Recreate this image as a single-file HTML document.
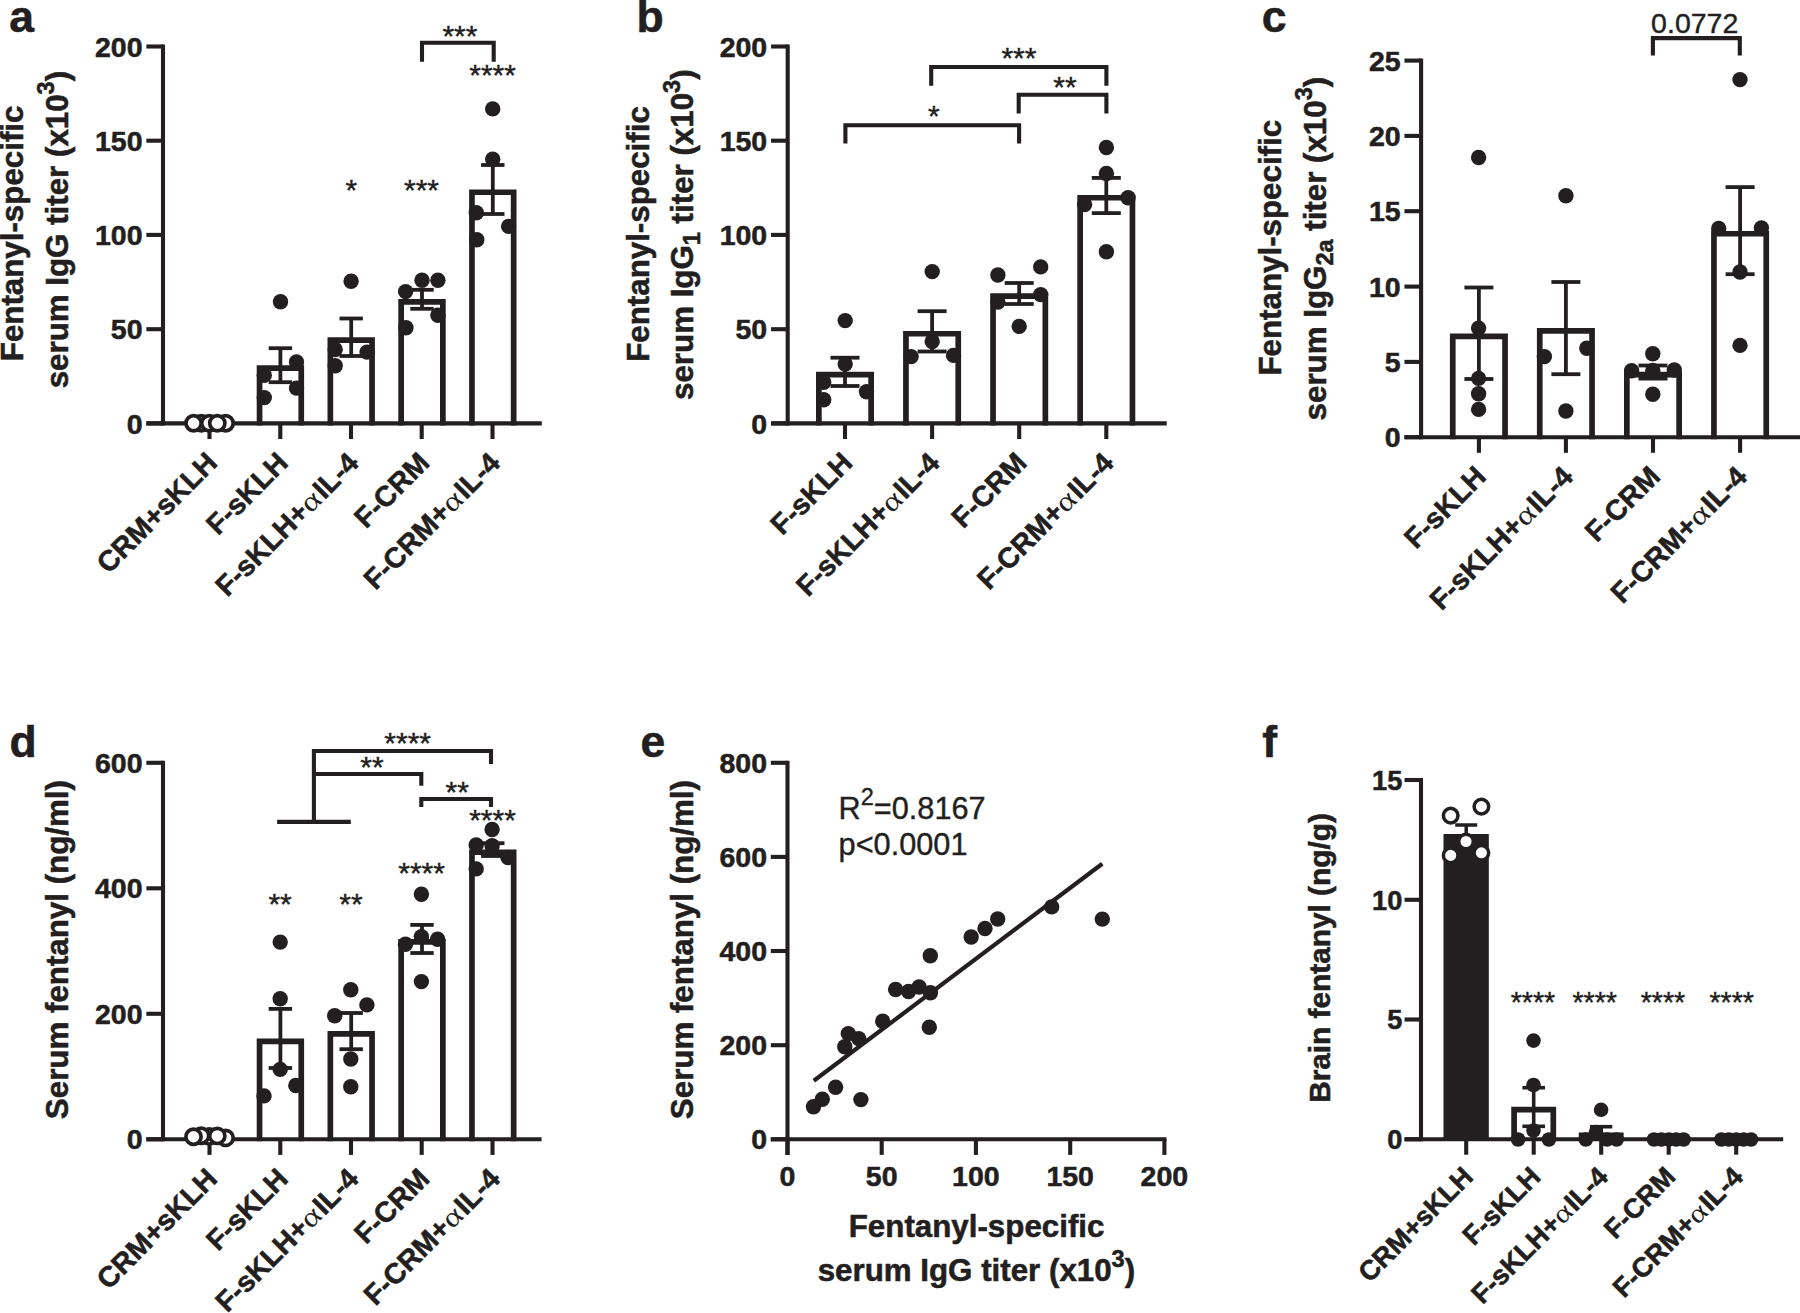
<!DOCTYPE html>
<html lang="en">
<head>
<meta charset="utf-8">
<title>Figure</title>
<style>
html,body{margin:0;padding:0;background:#fff;}
svg{display:block;}
text{font-family:"Liberation Sans",Arial,Helvetica,sans-serif;fill:#231f20;}
.al{font-family:"Liberation Serif","DejaVu Serif",serif;font-weight:normal;stroke:none;}
</style>
</head>
<body>
<svg width="1800" height="1313" viewBox="0 0 1800 1313">
<rect x="0" y="0" width="1800" height="1313" fill="#fff"/>
<text x="9.2" y="31.5" font-size="44.5" font-weight="bold" text-anchor="start" stroke="#231f20" stroke-width="0.55">a</text>
<text x="22.6" y="233.4" font-size="31.3" font-weight="bold" text-anchor="middle" transform="rotate(-90 22.6 233.4)" stroke="#231f20" stroke-width="0.55">Fentanyl-specific</text>
<text x="67.9" y="229.6" font-size="31.3" font-weight="bold" text-anchor="middle" transform="rotate(-90 67.9 229.6)" stroke="#231f20" stroke-width="0.55">serum IgG titer (x10<tspan dy="-13.5" font-size="23.5">3</tspan><tspan dy="13.5">)</tspan></text>
<path d="M259.55 425.45V368.05H301.25V425.45" fill="none" stroke="#231f20" stroke-width="5.7" stroke-linejoin="miter"/>
<path d="M330.35 425.45V340.15H372.05V425.45" fill="none" stroke="#231f20" stroke-width="5.7" stroke-linejoin="miter"/>
<path d="M401.15 425.45V301.95H442.85V425.45" fill="none" stroke="#231f20" stroke-width="5.7" stroke-linejoin="miter"/>
<path d="M471.95 425.45V192.25H513.65V425.45" fill="none" stroke="#231f20" stroke-width="5.7" stroke-linejoin="miter"/>
<line x1="163" y1="44.45" x2="163" y2="425.45" stroke="#231f20" stroke-width="4.1" stroke-linecap="butt"/>
<line x1="146.35" y1="423.4" x2="541.8" y2="423.4" stroke="#231f20" stroke-width="4.1" stroke-linecap="butt"/>
<line x1="146.35" y1="46.5" x2="163" y2="46.5" stroke="#231f20" stroke-width="4.1" stroke-linecap="butt"/>
<text x="142.5" y="56.6" font-size="28.5" font-weight="bold" text-anchor="end" stroke="#231f20" stroke-width="0.55">200</text>
<line x1="146.35" y1="140.7" x2="163" y2="140.7" stroke="#231f20" stroke-width="4.1" stroke-linecap="butt"/>
<text x="142.5" y="150.8" font-size="28.5" font-weight="bold" text-anchor="end" stroke="#231f20" stroke-width="0.55">150</text>
<line x1="146.35" y1="234.9" x2="163" y2="234.9" stroke="#231f20" stroke-width="4.1" stroke-linecap="butt"/>
<text x="142.5" y="245" font-size="28.5" font-weight="bold" text-anchor="end" stroke="#231f20" stroke-width="0.55">100</text>
<line x1="146.35" y1="329.2" x2="163" y2="329.2" stroke="#231f20" stroke-width="4.1" stroke-linecap="butt"/>
<text x="142.5" y="339.3" font-size="28.5" font-weight="bold" text-anchor="end" stroke="#231f20" stroke-width="0.55">50</text>
<line x1="146.35" y1="423.4" x2="163" y2="423.4" stroke="#231f20" stroke-width="4.1" stroke-linecap="butt"/>
<text x="142.5" y="433.5" font-size="28.5" font-weight="bold" text-anchor="end" stroke="#231f20" stroke-width="0.55">0</text>
<line x1="209.5" y1="423.4" x2="209.5" y2="439" stroke="#231f20" stroke-width="4.1" stroke-linecap="butt"/>
<line x1="280.3" y1="423.4" x2="280.3" y2="439" stroke="#231f20" stroke-width="4.1" stroke-linecap="butt"/>
<line x1="351" y1="423.4" x2="351" y2="439" stroke="#231f20" stroke-width="4.1" stroke-linecap="butt"/>
<line x1="421.7" y1="423.4" x2="421.7" y2="439" stroke="#231f20" stroke-width="4.1" stroke-linecap="butt"/>
<line x1="492.5" y1="423.4" x2="492.5" y2="439" stroke="#231f20" stroke-width="4.1" stroke-linecap="butt"/>
<line x1="280.4" y1="348.2" x2="280.4" y2="382.2" stroke="#231f20" stroke-width="3.8" stroke-linecap="butt"/>
<line x1="268.7" y1="348.2" x2="292.1" y2="348.2" stroke="#231f20" stroke-width="3.8" stroke-linecap="butt"/>
<line x1="268.7" y1="382.2" x2="292.1" y2="382.2" stroke="#231f20" stroke-width="3.8" stroke-linecap="butt"/>
<line x1="351.2" y1="318.5" x2="351.2" y2="356" stroke="#231f20" stroke-width="3.8" stroke-linecap="butt"/>
<line x1="339.5" y1="318.5" x2="362.9" y2="318.5" stroke="#231f20" stroke-width="3.8" stroke-linecap="butt"/>
<line x1="339.5" y1="356" x2="362.9" y2="356" stroke="#231f20" stroke-width="3.8" stroke-linecap="butt"/>
<line x1="422" y1="289.8" x2="422" y2="308.8" stroke="#231f20" stroke-width="3.8" stroke-linecap="butt"/>
<line x1="410.3" y1="289.8" x2="433.7" y2="289.8" stroke="#231f20" stroke-width="3.8" stroke-linecap="butt"/>
<line x1="410.3" y1="308.8" x2="433.7" y2="308.8" stroke="#231f20" stroke-width="3.8" stroke-linecap="butt"/>
<line x1="492.8" y1="165" x2="492.8" y2="214" stroke="#231f20" stroke-width="3.8" stroke-linecap="butt"/>
<line x1="481.1" y1="165" x2="504.5" y2="165" stroke="#231f20" stroke-width="3.8" stroke-linecap="butt"/>
<line x1="481.1" y1="214" x2="504.5" y2="214" stroke="#231f20" stroke-width="3.8" stroke-linecap="butt"/>
<circle cx="280.5" cy="301.7" r="7.7" fill="#231f20"/>
<circle cx="296.5" cy="362" r="7.7" fill="#231f20"/>
<circle cx="264.3" cy="375.3" r="7.7" fill="#231f20"/>
<circle cx="296.5" cy="388.1" r="7.7" fill="#231f20"/>
<circle cx="264.3" cy="397.6" r="7.7" fill="#231f20"/>
<circle cx="351.1" cy="281.2" r="7.7" fill="#231f20"/>
<circle cx="335.2" cy="349.5" r="7.7" fill="#231f20"/>
<circle cx="367" cy="352.1" r="7.7" fill="#231f20"/>
<circle cx="335.2" cy="365.8" r="7.7" fill="#231f20"/>
<circle cx="422" cy="280.3" r="7.7" fill="#231f20"/>
<circle cx="437.9" cy="280.3" r="7.7" fill="#231f20"/>
<circle cx="405.6" cy="291.6" r="7.7" fill="#231f20"/>
<circle cx="437.9" cy="315.2" r="7.7" fill="#231f20"/>
<circle cx="405.9" cy="327.8" r="7.7" fill="#231f20"/>
<circle cx="492.7" cy="108.9" r="7.7" fill="#231f20"/>
<circle cx="492.7" cy="159.2" r="7.7" fill="#231f20"/>
<circle cx="476.3" cy="212.8" r="7.7" fill="#231f20"/>
<circle cx="508.6" cy="226.4" r="7.7" fill="#231f20"/>
<circle cx="476.8" cy="239.8" r="7.7" fill="#231f20"/>
<circle cx="201.3" cy="423.3" r="7.6" fill="#fff" stroke="#231f20" stroke-width="3.7"/>
<circle cx="225.6" cy="423.3" r="7.6" fill="#fff" stroke="#231f20" stroke-width="3.7"/>
<circle cx="193.6" cy="423.3" r="7.6" fill="#fff" stroke="#231f20" stroke-width="3.7"/>
<circle cx="209.3" cy="423.3" r="7.6" fill="#fff" stroke="#231f20" stroke-width="3.7"/>
<circle cx="217.3" cy="423.3" r="7.6" fill="#fff" stroke="#231f20" stroke-width="3.7"/>
<path d="M422 61.7V42.8H493.7V61.7" fill="none" stroke="#231f20" stroke-width="4.1" stroke-linejoin="miter"/>
<text x="459.9" y="46" font-size="30" font-weight="normal" text-anchor="middle" stroke="#231f20" stroke-width="0.4">***</text>
<text x="492.6" y="85.4" font-size="30" font-weight="normal" text-anchor="middle" stroke="#231f20" stroke-width="0.4">****</text>
<text x="351.3" y="200.4" font-size="30" font-weight="normal" text-anchor="middle" stroke="#231f20" stroke-width="0.4">*</text>
<text x="421.5" y="200.4" font-size="30" font-weight="normal" text-anchor="middle" stroke="#231f20" stroke-width="0.4">***</text>
<g transform="translate(218.8 464.5) rotate(-45)" font-size="28.5" font-weight="bold" text-anchor="end">
<text x="0" y="0" stroke="#231f20" stroke-width="0.55">CRM+sKLH</text>
</g>
<g transform="translate(289.6 464.5) rotate(-45)" font-size="28.5" font-weight="bold" text-anchor="end">
<text x="0" y="0" stroke="#231f20" stroke-width="0.55">F-sKLH</text>
</g>
<g transform="translate(360.3 464.5) rotate(-45)" font-size="28.5" font-weight="bold" text-anchor="end">
<text x="0" y="0" stroke="#231f20" stroke-width="0.55">IL-4</text>
<text class="al" text-anchor="start" transform="translate(-69.91 0) scale(1.2 1)">α</text>
<text x="-70.34" y="0" stroke="#231f20" stroke-width="0.55">F-sKLH+</text>
</g>
<g transform="translate(431 464.5) rotate(-45)" font-size="28.5" font-weight="bold" text-anchor="end">
<text x="0" y="0" stroke="#231f20" stroke-width="0.55">F-CRM</text>
</g>
<g transform="translate(501.8 464.5) rotate(-45)" font-size="28.5" font-weight="bold" text-anchor="end">
<text x="0" y="0" stroke="#231f20" stroke-width="0.55">IL-4</text>
<text class="al" text-anchor="start" transform="translate(-69.91 0) scale(1.2 1)">α</text>
<text x="-70.34" y="0" stroke="#231f20" stroke-width="0.55">F-CRM+</text>
</g>
<text x="636.4" y="31.5" font-size="44.5" font-weight="bold" text-anchor="start" stroke="#231f20" stroke-width="0.55">b</text>
<text x="648.7" y="234" font-size="31.3" font-weight="bold" text-anchor="middle" transform="rotate(-90 648.7 234)" stroke="#231f20" stroke-width="0.55">Fentanyl-specific</text>
<text x="693.5" y="234.7" font-size="31.3" font-weight="bold" text-anchor="middle" transform="rotate(-90 693.5 234.7)" stroke="#231f20" stroke-width="0.55">serum IgG<tspan dy="7" font-size="23.5">1</tspan><tspan dy="-7"> titer (x10</tspan><tspan dy="-13.5" font-size="23.5">3</tspan><tspan dy="13.5">)</tspan></text>
<path d="M818.85 425.45V374.55H871.15V425.45" fill="none" stroke="#231f20" stroke-width="5.7" stroke-linejoin="miter"/>
<path d="M905.95 425.45V333.75H958.25V425.45" fill="none" stroke="#231f20" stroke-width="5.7" stroke-linejoin="miter"/>
<path d="M993.05 425.45V296.05H1045.35V425.45" fill="none" stroke="#231f20" stroke-width="5.7" stroke-linejoin="miter"/>
<path d="M1080.15 425.45V197.75H1132.45V425.45" fill="none" stroke="#231f20" stroke-width="5.7" stroke-linejoin="miter"/>
<line x1="787.7" y1="44.45" x2="787.7" y2="425.45" stroke="#231f20" stroke-width="4.1" stroke-linecap="butt"/>
<line x1="771.05" y1="423.4" x2="1166.7" y2="423.4" stroke="#231f20" stroke-width="4.1" stroke-linecap="butt"/>
<line x1="771.05" y1="46.5" x2="787.7" y2="46.5" stroke="#231f20" stroke-width="4.1" stroke-linecap="butt"/>
<text x="767.2" y="56.6" font-size="28.5" font-weight="bold" text-anchor="end" stroke="#231f20" stroke-width="0.55">200</text>
<line x1="771.05" y1="140.7" x2="787.7" y2="140.7" stroke="#231f20" stroke-width="4.1" stroke-linecap="butt"/>
<text x="767.2" y="150.8" font-size="28.5" font-weight="bold" text-anchor="end" stroke="#231f20" stroke-width="0.55">150</text>
<line x1="771.05" y1="234.9" x2="787.7" y2="234.9" stroke="#231f20" stroke-width="4.1" stroke-linecap="butt"/>
<text x="767.2" y="245" font-size="28.5" font-weight="bold" text-anchor="end" stroke="#231f20" stroke-width="0.55">100</text>
<line x1="771.05" y1="329.2" x2="787.7" y2="329.2" stroke="#231f20" stroke-width="4.1" stroke-linecap="butt"/>
<text x="767.2" y="339.3" font-size="28.5" font-weight="bold" text-anchor="end" stroke="#231f20" stroke-width="0.55">50</text>
<line x1="771.05" y1="423.4" x2="787.7" y2="423.4" stroke="#231f20" stroke-width="4.1" stroke-linecap="butt"/>
<text x="767.2" y="433.5" font-size="28.5" font-weight="bold" text-anchor="end" stroke="#231f20" stroke-width="0.55">0</text>
<line x1="845" y1="423.4" x2="845" y2="439" stroke="#231f20" stroke-width="4.1" stroke-linecap="butt"/>
<line x1="932.1" y1="423.4" x2="932.1" y2="439" stroke="#231f20" stroke-width="4.1" stroke-linecap="butt"/>
<line x1="1019.2" y1="423.4" x2="1019.2" y2="439" stroke="#231f20" stroke-width="4.1" stroke-linecap="butt"/>
<line x1="1106.3" y1="423.4" x2="1106.3" y2="439" stroke="#231f20" stroke-width="4.1" stroke-linecap="butt"/>
<line x1="845" y1="357.7" x2="845" y2="386" stroke="#231f20" stroke-width="3.8" stroke-linecap="butt"/>
<line x1="830.5" y1="357.7" x2="859.5" y2="357.7" stroke="#231f20" stroke-width="3.8" stroke-linecap="butt"/>
<line x1="830.5" y1="386" x2="859.5" y2="386" stroke="#231f20" stroke-width="3.8" stroke-linecap="butt"/>
<line x1="932.1" y1="311.2" x2="932.1" y2="351.5" stroke="#231f20" stroke-width="3.8" stroke-linecap="butt"/>
<line x1="917.6" y1="311.2" x2="946.6" y2="311.2" stroke="#231f20" stroke-width="3.8" stroke-linecap="butt"/>
<line x1="917.6" y1="351.5" x2="946.6" y2="351.5" stroke="#231f20" stroke-width="3.8" stroke-linecap="butt"/>
<line x1="1019.2" y1="283" x2="1019.2" y2="304" stroke="#231f20" stroke-width="3.8" stroke-linecap="butt"/>
<line x1="1004.7" y1="283" x2="1033.7" y2="283" stroke="#231f20" stroke-width="3.8" stroke-linecap="butt"/>
<line x1="1004.7" y1="304" x2="1033.7" y2="304" stroke="#231f20" stroke-width="3.8" stroke-linecap="butt"/>
<line x1="1106.3" y1="177.9" x2="1106.3" y2="213.1" stroke="#231f20" stroke-width="3.8" stroke-linecap="butt"/>
<line x1="1091.8" y1="177.9" x2="1120.8" y2="177.9" stroke="#231f20" stroke-width="3.8" stroke-linecap="butt"/>
<line x1="1091.8" y1="213.1" x2="1120.8" y2="213.1" stroke="#231f20" stroke-width="3.8" stroke-linecap="butt"/>
<circle cx="845.2" cy="320.6" r="7.7" fill="#231f20"/>
<circle cx="845.2" cy="364.1" r="7.7" fill="#231f20"/>
<circle cx="823.7" cy="382.2" r="7.7" fill="#231f20"/>
<circle cx="866.5" cy="391.8" r="7.7" fill="#231f20"/>
<circle cx="823.7" cy="399.7" r="7.7" fill="#231f20"/>
<circle cx="932.2" cy="271.6" r="7.7" fill="#231f20"/>
<circle cx="932.2" cy="341.5" r="7.7" fill="#231f20"/>
<circle cx="911.1" cy="356.6" r="7.7" fill="#231f20"/>
<circle cx="953.5" cy="355.4" r="7.7" fill="#231f20"/>
<circle cx="997.9" cy="275" r="7.7" fill="#231f20"/>
<circle cx="1040.7" cy="266.9" r="7.7" fill="#231f20"/>
<circle cx="1040.7" cy="294.6" r="7.7" fill="#231f20"/>
<circle cx="997.9" cy="302.1" r="7.7" fill="#231f20"/>
<circle cx="1019.2" cy="326.4" r="7.7" fill="#231f20"/>
<circle cx="1106.4" cy="147.5" r="7.7" fill="#231f20"/>
<circle cx="1106.4" cy="173.5" r="7.7" fill="#231f20"/>
<circle cx="1128.1" cy="197.8" r="7.7" fill="#231f20"/>
<circle cx="1084.6" cy="204.5" r="7.7" fill="#231f20"/>
<circle cx="1106.4" cy="251.8" r="7.7" fill="#231f20"/>
<path d="M931.2 85.8V67H1106.4V85.8" fill="none" stroke="#231f20" stroke-width="4.1" stroke-linejoin="miter"/>
<text x="1018.9" y="68.1" font-size="30" font-weight="normal" text-anchor="middle" stroke="#231f20" stroke-width="0.4">***</text>
<path d="M1018.7 113.6V94.7H1106.4V113.6" fill="none" stroke="#231f20" stroke-width="4.1" stroke-linejoin="miter"/>
<text x="1064.9" y="96.6" font-size="30" font-weight="normal" text-anchor="middle" stroke="#231f20" stroke-width="0.4">**</text>
<path d="M845.4 143.6V125.3H1019.1V143.6" fill="none" stroke="#231f20" stroke-width="4.1" stroke-linejoin="miter"/>
<text x="933.9" y="125.6" font-size="30" font-weight="normal" text-anchor="middle" stroke="#231f20" stroke-width="0.4">*</text>
<g transform="translate(854 464.5) rotate(-45)" font-size="28.5" font-weight="bold" text-anchor="end">
<text x="0" y="0" stroke="#231f20" stroke-width="0.55">F-sKLH</text>
</g>
<g transform="translate(941.1 464.5) rotate(-45)" font-size="28.5" font-weight="bold" text-anchor="end">
<text x="0" y="0" stroke="#231f20" stroke-width="0.55">IL-4</text>
<text class="al" text-anchor="start" transform="translate(-69.91 0) scale(1.2 1)">α</text>
<text x="-70.34" y="0" stroke="#231f20" stroke-width="0.55">F-sKLH+</text>
</g>
<g transform="translate(1028.2 464.5) rotate(-45)" font-size="28.5" font-weight="bold" text-anchor="end">
<text x="0" y="0" stroke="#231f20" stroke-width="0.55">F-CRM</text>
</g>
<g transform="translate(1115.3 464.5) rotate(-45)" font-size="28.5" font-weight="bold" text-anchor="end">
<text x="0" y="0" stroke="#231f20" stroke-width="0.55">IL-4</text>
<text class="al" text-anchor="start" transform="translate(-69.91 0) scale(1.2 1)">α</text>
<text x="-70.34" y="0" stroke="#231f20" stroke-width="0.55">F-CRM+</text>
</g>
<text x="1261.8" y="31.8" font-size="44.5" font-weight="bold" text-anchor="start" stroke="#231f20" stroke-width="0.55">c</text>
<text x="1281" y="247.7" font-size="31.3" font-weight="bold" text-anchor="middle" transform="rotate(-90 1281 247.7)" stroke="#231f20" stroke-width="0.55">Fentanyl-specific</text>
<text x="1325.7" y="248.6" font-size="31.3" font-weight="bold" text-anchor="middle" transform="rotate(-90 1325.7 248.6)" stroke="#231f20" stroke-width="0.55">serum IgG<tspan dy="7" font-size="23.5">2a</tspan><tspan dy="-7"> titer (x10</tspan><tspan dy="-13.5" font-size="23.5">3</tspan><tspan dy="13.5">)</tspan></text>
<path d="M1452.75 439.25V336.45H1505.05V439.25" fill="none" stroke="#231f20" stroke-width="5.7" stroke-linejoin="miter"/>
<path d="M1539.75 439.25V330.95H1592.05V439.25" fill="none" stroke="#231f20" stroke-width="5.7" stroke-linejoin="miter"/>
<path d="M1626.85 439.25V374.65H1679.15V439.25" fill="none" stroke="#231f20" stroke-width="5.7" stroke-linejoin="miter"/>
<path d="M1713.95 439.25V233.75H1766.25V439.25" fill="none" stroke="#231f20" stroke-width="5.7" stroke-linejoin="miter"/>
<line x1="1421.1" y1="58.55" x2="1421.1" y2="439.25" stroke="#231f20" stroke-width="4.1" stroke-linecap="butt"/>
<line x1="1404.45" y1="437.2" x2="1800" y2="437.2" stroke="#231f20" stroke-width="4.1" stroke-linecap="butt"/>
<line x1="1404.45" y1="60.6" x2="1421.1" y2="60.6" stroke="#231f20" stroke-width="4.1" stroke-linecap="butt"/>
<text x="1400.6" y="70.7" font-size="28.5" font-weight="bold" text-anchor="end" stroke="#231f20" stroke-width="0.55">25</text>
<line x1="1404.45" y1="135.9" x2="1421.1" y2="135.9" stroke="#231f20" stroke-width="4.1" stroke-linecap="butt"/>
<text x="1400.6" y="146" font-size="28.5" font-weight="bold" text-anchor="end" stroke="#231f20" stroke-width="0.55">20</text>
<line x1="1404.45" y1="211.2" x2="1421.1" y2="211.2" stroke="#231f20" stroke-width="4.1" stroke-linecap="butt"/>
<text x="1400.6" y="221.3" font-size="28.5" font-weight="bold" text-anchor="end" stroke="#231f20" stroke-width="0.55">15</text>
<line x1="1404.45" y1="286.6" x2="1421.1" y2="286.6" stroke="#231f20" stroke-width="4.1" stroke-linecap="butt"/>
<text x="1400.6" y="296.7" font-size="28.5" font-weight="bold" text-anchor="end" stroke="#231f20" stroke-width="0.55">10</text>
<line x1="1404.45" y1="361.9" x2="1421.1" y2="361.9" stroke="#231f20" stroke-width="4.1" stroke-linecap="butt"/>
<text x="1400.6" y="372" font-size="28.5" font-weight="bold" text-anchor="end" stroke="#231f20" stroke-width="0.55">5</text>
<line x1="1404.45" y1="437.2" x2="1421.1" y2="437.2" stroke="#231f20" stroke-width="4.1" stroke-linecap="butt"/>
<text x="1400.6" y="447.3" font-size="28.5" font-weight="bold" text-anchor="end" stroke="#231f20" stroke-width="0.55">0</text>
<line x1="1478.9" y1="437.2" x2="1478.9" y2="452.8" stroke="#231f20" stroke-width="4.1" stroke-linecap="butt"/>
<line x1="1565.9" y1="437.2" x2="1565.9" y2="452.8" stroke="#231f20" stroke-width="4.1" stroke-linecap="butt"/>
<line x1="1653" y1="437.2" x2="1653" y2="452.8" stroke="#231f20" stroke-width="4.1" stroke-linecap="butt"/>
<line x1="1740.1" y1="437.2" x2="1740.1" y2="452.8" stroke="#231f20" stroke-width="4.1" stroke-linecap="butt"/>
<line x1="1478.9" y1="287.5" x2="1478.9" y2="379" stroke="#231f20" stroke-width="3.8" stroke-linecap="butt"/>
<line x1="1464.4" y1="287.5" x2="1493.4" y2="287.5" stroke="#231f20" stroke-width="3.8" stroke-linecap="butt"/>
<line x1="1464.4" y1="379" x2="1493.4" y2="379" stroke="#231f20" stroke-width="3.8" stroke-linecap="butt"/>
<line x1="1565.9" y1="282" x2="1565.9" y2="374.2" stroke="#231f20" stroke-width="3.8" stroke-linecap="butt"/>
<line x1="1551.4" y1="282" x2="1580.4" y2="282" stroke="#231f20" stroke-width="3.8" stroke-linecap="butt"/>
<line x1="1551.4" y1="374.2" x2="1580.4" y2="374.2" stroke="#231f20" stroke-width="3.8" stroke-linecap="butt"/>
<line x1="1653" y1="365.5" x2="1653" y2="378.6" stroke="#231f20" stroke-width="3.8" stroke-linecap="butt"/>
<line x1="1638.5" y1="365.5" x2="1667.5" y2="365.5" stroke="#231f20" stroke-width="3.8" stroke-linecap="butt"/>
<line x1="1638.5" y1="378.6" x2="1667.5" y2="378.6" stroke="#231f20" stroke-width="3.8" stroke-linecap="butt"/>
<line x1="1740.1" y1="187.1" x2="1740.1" y2="274.2" stroke="#231f20" stroke-width="3.8" stroke-linecap="butt"/>
<line x1="1725.6" y1="187.1" x2="1754.6" y2="187.1" stroke="#231f20" stroke-width="3.8" stroke-linecap="butt"/>
<line x1="1725.6" y1="274.2" x2="1754.6" y2="274.2" stroke="#231f20" stroke-width="3.8" stroke-linecap="butt"/>
<circle cx="1478.6" cy="157.5" r="7.7" fill="#231f20"/>
<circle cx="1478.6" cy="328.1" r="7.7" fill="#231f20"/>
<circle cx="1478.6" cy="378.4" r="7.7" fill="#231f20"/>
<circle cx="1478.6" cy="393.8" r="7.7" fill="#231f20"/>
<circle cx="1478.6" cy="409.4" r="7.7" fill="#231f20"/>
<circle cx="1565.9" cy="195.7" r="7.7" fill="#231f20"/>
<circle cx="1586.8" cy="348.2" r="7.7" fill="#231f20"/>
<circle cx="1544.4" cy="356.6" r="7.7" fill="#231f20"/>
<circle cx="1565.9" cy="411" r="7.7" fill="#231f20"/>
<circle cx="1652.8" cy="353.7" r="7.7" fill="#231f20"/>
<circle cx="1631.6" cy="370.8" r="7.7" fill="#231f20"/>
<circle cx="1674.3" cy="370" r="7.7" fill="#231f20"/>
<circle cx="1652.8" cy="370.5" r="7.7" fill="#231f20"/>
<circle cx="1652.8" cy="394.3" r="7.7" fill="#231f20"/>
<circle cx="1740" cy="79.6" r="7.7" fill="#231f20"/>
<circle cx="1718.7" cy="228.4" r="7.7" fill="#231f20"/>
<circle cx="1761.4" cy="227.9" r="7.7" fill="#231f20"/>
<circle cx="1740" cy="272" r="7.7" fill="#231f20"/>
<circle cx="1740" cy="345.4" r="7.7" fill="#231f20"/>
<path d="M1652.9 55.6V38.1H1739.8V55.6" fill="none" stroke="#231f20" stroke-width="4.1" stroke-linejoin="miter"/>
<text x="1694.7" y="33.1" font-size="28.5" font-weight="normal" text-anchor="middle" stroke="#231f20" stroke-width="0.4">0.0772</text>
<g transform="translate(1487.6 478.3) rotate(-45)" font-size="28.5" font-weight="bold" text-anchor="end">
<text x="0" y="0" stroke="#231f20" stroke-width="0.55">F-sKLH</text>
</g>
<g transform="translate(1574.6 478.3) rotate(-45)" font-size="28.5" font-weight="bold" text-anchor="end">
<text x="0" y="0" stroke="#231f20" stroke-width="0.55">IL-4</text>
<text class="al" text-anchor="start" transform="translate(-69.91 0) scale(1.2 1)">α</text>
<text x="-70.34" y="0" stroke="#231f20" stroke-width="0.55">F-sKLH+</text>
</g>
<g transform="translate(1661.7 478.3) rotate(-45)" font-size="28.5" font-weight="bold" text-anchor="end">
<text x="0" y="0" stroke="#231f20" stroke-width="0.55">F-CRM</text>
</g>
<g transform="translate(1748.8 478.3) rotate(-45)" font-size="28.5" font-weight="bold" text-anchor="end">
<text x="0" y="0" stroke="#231f20" stroke-width="0.55">IL-4</text>
<text class="al" text-anchor="start" transform="translate(-69.91 0) scale(1.2 1)">α</text>
<text x="-70.34" y="0" stroke="#231f20" stroke-width="0.55">F-CRM+</text>
</g>
<text x="9.6" y="756.9" font-size="44.5" font-weight="bold" text-anchor="start" stroke="#231f20" stroke-width="0.55">d</text>
<text x="68" y="949.6" font-size="31.3" font-weight="bold" text-anchor="middle" transform="rotate(-90 68 949.6)" stroke="#231f20" stroke-width="0.55">Serum fentanyl (ng/ml)</text>
<path d="M259.55 1141.35V1041.45H301.25V1141.35" fill="none" stroke="#231f20" stroke-width="5.7" stroke-linejoin="miter"/>
<path d="M330.35 1141.35V1033.95H372.05V1141.35" fill="none" stroke="#231f20" stroke-width="5.7" stroke-linejoin="miter"/>
<path d="M401.15 1141.35V941.85H442.85V1141.35" fill="none" stroke="#231f20" stroke-width="5.7" stroke-linejoin="miter"/>
<path d="M471.95 1141.35V852.25H513.65V1141.35" fill="none" stroke="#231f20" stroke-width="5.7" stroke-linejoin="miter"/>
<line x1="163" y1="760.75" x2="163" y2="1141.35" stroke="#231f20" stroke-width="4.1" stroke-linecap="butt"/>
<line x1="146.35" y1="1139.3" x2="541.6" y2="1139.3" stroke="#231f20" stroke-width="4.1" stroke-linecap="butt"/>
<line x1="146.35" y1="762.8" x2="163" y2="762.8" stroke="#231f20" stroke-width="4.1" stroke-linecap="butt"/>
<text x="142.5" y="772.9" font-size="28.5" font-weight="bold" text-anchor="end" stroke="#231f20" stroke-width="0.55">600</text>
<line x1="146.35" y1="888.3" x2="163" y2="888.3" stroke="#231f20" stroke-width="4.1" stroke-linecap="butt"/>
<text x="142.5" y="898.4" font-size="28.5" font-weight="bold" text-anchor="end" stroke="#231f20" stroke-width="0.55">400</text>
<line x1="146.35" y1="1013.8" x2="163" y2="1013.8" stroke="#231f20" stroke-width="4.1" stroke-linecap="butt"/>
<text x="142.5" y="1023.9" font-size="28.5" font-weight="bold" text-anchor="end" stroke="#231f20" stroke-width="0.55">200</text>
<line x1="146.35" y1="1139.3" x2="163" y2="1139.3" stroke="#231f20" stroke-width="4.1" stroke-linecap="butt"/>
<text x="142.5" y="1149.4" font-size="28.5" font-weight="bold" text-anchor="end" stroke="#231f20" stroke-width="0.55">0</text>
<line x1="209.5" y1="1139.3" x2="209.5" y2="1154.9" stroke="#231f20" stroke-width="4.1" stroke-linecap="butt"/>
<line x1="280.3" y1="1139.3" x2="280.3" y2="1154.9" stroke="#231f20" stroke-width="4.1" stroke-linecap="butt"/>
<line x1="351" y1="1139.3" x2="351" y2="1154.9" stroke="#231f20" stroke-width="4.1" stroke-linecap="butt"/>
<line x1="421.7" y1="1139.3" x2="421.7" y2="1154.9" stroke="#231f20" stroke-width="4.1" stroke-linecap="butt"/>
<line x1="492.5" y1="1139.3" x2="492.5" y2="1154.9" stroke="#231f20" stroke-width="4.1" stroke-linecap="butt"/>
<line x1="280.4" y1="1008.9" x2="280.4" y2="1068" stroke="#231f20" stroke-width="3.8" stroke-linecap="butt"/>
<line x1="268.7" y1="1008.9" x2="292.1" y2="1008.9" stroke="#231f20" stroke-width="3.8" stroke-linecap="butt"/>
<line x1="268.7" y1="1068" x2="292.1" y2="1068" stroke="#231f20" stroke-width="3.8" stroke-linecap="butt"/>
<line x1="351.2" y1="1013" x2="351.2" y2="1049.2" stroke="#231f20" stroke-width="3.8" stroke-linecap="butt"/>
<line x1="339.5" y1="1013" x2="362.9" y2="1013" stroke="#231f20" stroke-width="3.8" stroke-linecap="butt"/>
<line x1="339.5" y1="1049.2" x2="362.9" y2="1049.2" stroke="#231f20" stroke-width="3.8" stroke-linecap="butt"/>
<line x1="422" y1="924.9" x2="422" y2="953" stroke="#231f20" stroke-width="3.8" stroke-linecap="butt"/>
<line x1="410.3" y1="924.9" x2="433.7" y2="924.9" stroke="#231f20" stroke-width="3.8" stroke-linecap="butt"/>
<line x1="410.3" y1="953" x2="433.7" y2="953" stroke="#231f20" stroke-width="3.8" stroke-linecap="butt"/>
<line x1="492.8" y1="843.2" x2="492.8" y2="856" stroke="#231f20" stroke-width="3.8" stroke-linecap="butt"/>
<line x1="481.1" y1="843.2" x2="504.5" y2="843.2" stroke="#231f20" stroke-width="3.8" stroke-linecap="butt"/>
<line x1="481.1" y1="856" x2="504.5" y2="856" stroke="#231f20" stroke-width="3.8" stroke-linecap="butt"/>
<circle cx="280.2" cy="942.1" r="7.7" fill="#231f20"/>
<circle cx="280.2" cy="998.7" r="7.7" fill="#231f20"/>
<circle cx="280.2" cy="1069.4" r="7.7" fill="#231f20"/>
<circle cx="295.8" cy="1085.5" r="7.7" fill="#231f20"/>
<circle cx="264" cy="1095.9" r="7.7" fill="#231f20"/>
<circle cx="350.8" cy="989.8" r="7.7" fill="#231f20"/>
<circle cx="366.9" cy="1004.9" r="7.7" fill="#231f20"/>
<circle cx="334.7" cy="1015.8" r="7.7" fill="#231f20"/>
<circle cx="350.8" cy="1059" r="7.7" fill="#231f20"/>
<circle cx="350.8" cy="1086.7" r="7.7" fill="#231f20"/>
<circle cx="421.4" cy="894.3" r="7.7" fill="#231f20"/>
<circle cx="421.4" cy="936.7" r="7.7" fill="#231f20"/>
<circle cx="437.6" cy="939.2" r="7.7" fill="#231f20"/>
<circle cx="405.5" cy="944.2" r="7.7" fill="#231f20"/>
<circle cx="421.4" cy="981.6" r="7.7" fill="#231f20"/>
<circle cx="492.1" cy="829.5" r="7.7" fill="#231f20"/>
<circle cx="476.2" cy="844.9" r="7.7" fill="#231f20"/>
<circle cx="492.1" cy="845.7" r="7.7" fill="#231f20"/>
<circle cx="508" cy="857.5" r="7.7" fill="#231f20"/>
<circle cx="476.2" cy="868.9" r="7.7" fill="#231f20"/>
<circle cx="209.3" cy="1136.4" r="7.6" fill="#fff" stroke="#231f20" stroke-width="3.7"/>
<circle cx="225.6" cy="1137.9" r="7.6" fill="#fff" stroke="#231f20" stroke-width="3.7"/>
<circle cx="201.1" cy="1135.7" r="7.6" fill="#fff" stroke="#231f20" stroke-width="3.7"/>
<circle cx="193.5" cy="1136.7" r="7.6" fill="#fff" stroke="#231f20" stroke-width="3.7"/>
<circle cx="217.3" cy="1135.9" r="7.6" fill="#fff" stroke="#231f20" stroke-width="3.7"/>
<path d="M277.1 821.9H350.8" fill="none" stroke="#231f20" stroke-width="4.1" stroke-linejoin="miter"/>
<path d="M313.9 821.9V751H491V764" fill="none" stroke="#231f20" stroke-width="4.1" stroke-linejoin="miter"/>
<path d="M313.9 774H421.3V785.8" fill="none" stroke="#231f20" stroke-width="4.1" stroke-linejoin="miter"/>
<path d="M421.3 806.9V799H491V806.9" fill="none" stroke="#231f20" stroke-width="4.1" stroke-linejoin="miter"/>
<text x="407.7" y="753" font-size="30" font-weight="normal" text-anchor="middle" stroke="#231f20" stroke-width="0.4">****</text>
<text x="371.9" y="777" font-size="30" font-weight="normal" text-anchor="middle" stroke="#231f20" stroke-width="0.4">**</text>
<text x="457.3" y="802" font-size="30" font-weight="normal" text-anchor="middle" stroke="#231f20" stroke-width="0.4">**</text>
<text x="492.5" y="829.8" font-size="30" font-weight="normal" text-anchor="middle" stroke="#231f20" stroke-width="0.4">****</text>
<text x="421.6" y="882.9" font-size="30" font-weight="normal" text-anchor="middle" stroke="#231f20" stroke-width="0.4">****</text>
<text x="280.1" y="913.9" font-size="30" font-weight="normal" text-anchor="middle" stroke="#231f20" stroke-width="0.4">**</text>
<text x="350.9" y="913.9" font-size="30" font-weight="normal" text-anchor="middle" stroke="#231f20" stroke-width="0.4">**</text>
<g transform="translate(218.8 1180.4) rotate(-45)" font-size="28.5" font-weight="bold" text-anchor="end">
<text x="0" y="0" stroke="#231f20" stroke-width="0.55">CRM+sKLH</text>
</g>
<g transform="translate(289.6 1180.4) rotate(-45)" font-size="28.5" font-weight="bold" text-anchor="end">
<text x="0" y="0" stroke="#231f20" stroke-width="0.55">F-sKLH</text>
</g>
<g transform="translate(360.3 1180.4) rotate(-45)" font-size="28.5" font-weight="bold" text-anchor="end">
<text x="0" y="0" stroke="#231f20" stroke-width="0.55">IL-4</text>
<text class="al" text-anchor="start" transform="translate(-69.91 0) scale(1.2 1)">α</text>
<text x="-70.34" y="0" stroke="#231f20" stroke-width="0.55">F-sKLH+</text>
</g>
<g transform="translate(431 1180.4) rotate(-45)" font-size="28.5" font-weight="bold" text-anchor="end">
<text x="0" y="0" stroke="#231f20" stroke-width="0.55">F-CRM</text>
</g>
<g transform="translate(501.8 1180.4) rotate(-45)" font-size="28.5" font-weight="bold" text-anchor="end">
<text x="0" y="0" stroke="#231f20" stroke-width="0.55">IL-4</text>
<text class="al" text-anchor="start" transform="translate(-69.91 0) scale(1.2 1)">α</text>
<text x="-70.34" y="0" stroke="#231f20" stroke-width="0.55">F-CRM+</text>
</g>
<text x="640.5" y="756.9" font-size="44.5" font-weight="bold" text-anchor="start" stroke="#231f20" stroke-width="0.55">e</text>
<text x="693.1" y="949.6" font-size="31.3" font-weight="bold" text-anchor="middle" transform="rotate(-90 693.1 949.6)" stroke="#231f20" stroke-width="0.55">Serum fentanyl (ng/ml)</text>
<line x1="787.5" y1="760.75" x2="787.5" y2="1154.9" stroke="#231f20" stroke-width="4.1" stroke-linecap="butt"/>
<line x1="770.8" y1="1139.3" x2="1166.45" y2="1139.3" stroke="#231f20" stroke-width="4.1" stroke-linecap="butt"/>
<line x1="770.8" y1="762.8" x2="787.5" y2="762.8" stroke="#231f20" stroke-width="4.1" stroke-linecap="butt"/>
<text x="767" y="772.9" font-size="28.5" font-weight="bold" text-anchor="end" stroke="#231f20" stroke-width="0.55">800</text>
<line x1="770.8" y1="856.9" x2="787.5" y2="856.9" stroke="#231f20" stroke-width="4.1" stroke-linecap="butt"/>
<text x="767" y="867" font-size="28.5" font-weight="bold" text-anchor="end" stroke="#231f20" stroke-width="0.55">600</text>
<line x1="770.8" y1="951" x2="787.5" y2="951" stroke="#231f20" stroke-width="4.1" stroke-linecap="butt"/>
<text x="767" y="961.1" font-size="28.5" font-weight="bold" text-anchor="end" stroke="#231f20" stroke-width="0.55">400</text>
<line x1="770.8" y1="1045.2" x2="787.5" y2="1045.2" stroke="#231f20" stroke-width="4.1" stroke-linecap="butt"/>
<text x="767" y="1055.3" font-size="28.5" font-weight="bold" text-anchor="end" stroke="#231f20" stroke-width="0.55">200</text>
<line x1="770.8" y1="1139.3" x2="787.5" y2="1139.3" stroke="#231f20" stroke-width="4.1" stroke-linecap="butt"/>
<text x="767" y="1149.4" font-size="28.5" font-weight="bold" text-anchor="end" stroke="#231f20" stroke-width="0.55">0</text>
<line x1="787.5" y1="1139.3" x2="787.5" y2="1154.9" stroke="#231f20" stroke-width="4.1" stroke-linecap="butt"/>
<text x="787.5" y="1185.6" font-size="28.5" font-weight="bold" text-anchor="middle" stroke="#231f20" stroke-width="0.55">0</text>
<line x1="881.7" y1="1139.3" x2="881.7" y2="1154.9" stroke="#231f20" stroke-width="4.1" stroke-linecap="butt"/>
<text x="881.7" y="1185.6" font-size="28.5" font-weight="bold" text-anchor="middle" stroke="#231f20" stroke-width="0.55">50</text>
<line x1="975.9" y1="1139.3" x2="975.9" y2="1154.9" stroke="#231f20" stroke-width="4.1" stroke-linecap="butt"/>
<text x="975.9" y="1185.6" font-size="28.5" font-weight="bold" text-anchor="middle" stroke="#231f20" stroke-width="0.55">100</text>
<line x1="1070.2" y1="1139.3" x2="1070.2" y2="1154.9" stroke="#231f20" stroke-width="4.1" stroke-linecap="butt"/>
<text x="1070.2" y="1185.6" font-size="28.5" font-weight="bold" text-anchor="middle" stroke="#231f20" stroke-width="0.55">150</text>
<line x1="1164.4" y1="1139.3" x2="1164.4" y2="1154.9" stroke="#231f20" stroke-width="4.1" stroke-linecap="butt"/>
<text x="1164.4" y="1185.6" font-size="28.5" font-weight="bold" text-anchor="middle" stroke="#231f20" stroke-width="0.55">200</text>
<text x="976.6" y="1237.3" font-size="31.3" font-weight="bold" text-anchor="middle" stroke="#231f20" stroke-width="0.55">Fentanyl-specific</text>
<text x="976.4" y="1280.8" font-size="31.3" font-weight="bold" text-anchor="middle" stroke="#231f20" stroke-width="0.55">serum IgG titer (x10<tspan dy="-13.5" font-size="23.5">3</tspan><tspan dy="13.5">)</tspan></text>
<line x1="813.8" y1="1080.8" x2="1102.3" y2="863.8" stroke="#231f20" stroke-width="4.2" stroke-linecap="butt"/>
<circle cx="813.5" cy="1106.8" r="7.7" fill="#231f20"/>
<circle cx="822.3" cy="1099.3" r="7.7" fill="#231f20"/>
<circle cx="835.6" cy="1087.2" r="7.7" fill="#231f20"/>
<circle cx="860.9" cy="1099.6" r="7.7" fill="#231f20"/>
<circle cx="844.8" cy="1046.8" r="7.7" fill="#231f20"/>
<circle cx="848.3" cy="1033.6" r="7.7" fill="#231f20"/>
<circle cx="858.7" cy="1038.6" r="7.7" fill="#231f20"/>
<circle cx="882.7" cy="1021.3" r="7.7" fill="#231f20"/>
<circle cx="895.6" cy="989.5" r="7.7" fill="#231f20"/>
<circle cx="908.6" cy="991.5" r="7.7" fill="#231f20"/>
<circle cx="919.1" cy="987" r="7.7" fill="#231f20"/>
<circle cx="930.4" cy="992.8" r="7.7" fill="#231f20"/>
<circle cx="930.3" cy="955.8" r="7.7" fill="#231f20"/>
<circle cx="929.3" cy="1027.2" r="7.7" fill="#231f20"/>
<circle cx="971.2" cy="937" r="7.7" fill="#231f20"/>
<circle cx="985" cy="928.5" r="7.7" fill="#231f20"/>
<circle cx="997.7" cy="919" r="7.7" fill="#231f20"/>
<circle cx="1051.7" cy="906.9" r="7.7" fill="#231f20"/>
<circle cx="1102.3" cy="919.1" r="7.7" fill="#231f20"/>
<text x="838.6" y="819.2" font-size="30.7" font-weight="normal" text-anchor="start" stroke="#231f20" stroke-width="0.4">R<tspan dy="-14" font-size="23.5">2</tspan><tspan dy="14">=0.8167</tspan></text>
<text x="838.6" y="854.8" font-size="30.7" font-weight="normal" text-anchor="start" stroke="#231f20" stroke-width="0.4">p&lt;0.0001</text>
<text x="1262.2" y="756.9" font-size="44.5" font-weight="bold" text-anchor="start" stroke="#231f20" stroke-width="0.55">f</text>
<text x="1330" y="958" font-size="29.8" font-weight="bold" text-anchor="middle" transform="rotate(-90 1330 958)" stroke="#231f20" stroke-width="0.55">Brain fentanyl (ng/g)</text>
<rect x="1443.5" y="834" width="45.3" height="305.3" fill="#231f20"/>
<path d="M1514.1 1141.35V1109.65H1553.3V1141.35" fill="none" stroke="#231f20" stroke-width="5.7" stroke-linejoin="miter"/>
<path d="M1581.6 1141.35V1135.25H1620.8V1141.35" fill="none" stroke="#231f20" stroke-width="5.7" stroke-linejoin="miter"/>
<line x1="1421" y1="777.95" x2="1421" y2="1141.35" stroke="#231f20" stroke-width="4.1" stroke-linecap="butt"/>
<line x1="1404.55" y1="1139.3" x2="1783.2" y2="1139.3" stroke="#231f20" stroke-width="4.1" stroke-linecap="butt"/>
<line x1="1404.55" y1="780" x2="1421" y2="780" stroke="#231f20" stroke-width="4.1" stroke-linecap="butt"/>
<text x="1402.3" y="789.7" font-size="27.2" font-weight="bold" text-anchor="end" stroke="#231f20" stroke-width="0.55">15</text>
<line x1="1404.55" y1="899.8" x2="1421" y2="899.8" stroke="#231f20" stroke-width="4.1" stroke-linecap="butt"/>
<text x="1402.3" y="909.5" font-size="27.2" font-weight="bold" text-anchor="end" stroke="#231f20" stroke-width="0.55">10</text>
<line x1="1404.55" y1="1019.5" x2="1421" y2="1019.5" stroke="#231f20" stroke-width="4.1" stroke-linecap="butt"/>
<text x="1402.3" y="1029.2" font-size="27.2" font-weight="bold" text-anchor="end" stroke="#231f20" stroke-width="0.55">5</text>
<line x1="1404.55" y1="1139.3" x2="1421" y2="1139.3" stroke="#231f20" stroke-width="4.1" stroke-linecap="butt"/>
<text x="1402.3" y="1149" font-size="27.2" font-weight="bold" text-anchor="end" stroke="#231f20" stroke-width="0.55">0</text>
<line x1="1466.2" y1="1139.3" x2="1466.2" y2="1154.7" stroke="#231f20" stroke-width="4.1" stroke-linecap="butt"/>
<line x1="1533.7" y1="1139.3" x2="1533.7" y2="1154.7" stroke="#231f20" stroke-width="4.1" stroke-linecap="butt"/>
<line x1="1601.2" y1="1139.3" x2="1601.2" y2="1154.7" stroke="#231f20" stroke-width="4.1" stroke-linecap="butt"/>
<line x1="1668.7" y1="1139.3" x2="1668.7" y2="1154.7" stroke="#231f20" stroke-width="4.1" stroke-linecap="butt"/>
<line x1="1736.2" y1="1139.3" x2="1736.2" y2="1154.7" stroke="#231f20" stroke-width="4.1" stroke-linecap="butt"/>
<line x1="1466.2" y1="825" x2="1466.2" y2="843" stroke="#231f20" stroke-width="3.5" stroke-linecap="butt"/>
<line x1="1455.2" y1="825" x2="1477.2" y2="825" stroke="#231f20" stroke-width="3.5" stroke-linecap="butt"/>
<line x1="1455.2" y1="843" x2="1477.2" y2="843" stroke="#231f20" stroke-width="3.5" stroke-linecap="butt"/>
<line x1="1533.7" y1="1087.7" x2="1533.7" y2="1139.3" stroke="#231f20" stroke-width="3.6" stroke-linecap="butt"/>
<line x1="1522.4" y1="1087.7" x2="1545" y2="1087.7" stroke="#231f20" stroke-width="3.6" stroke-linecap="butt"/>
<line x1="1522.4" y1="1126.3" x2="1545" y2="1126.3" stroke="#231f20" stroke-width="3.6" stroke-linecap="butt"/>
<line x1="1601.2" y1="1126.7" x2="1601.2" y2="1139.3" stroke="#231f20" stroke-width="3.6" stroke-linecap="butt"/>
<line x1="1590" y1="1126.7" x2="1612.3" y2="1126.7" stroke="#231f20" stroke-width="3.6" stroke-linecap="butt"/>
<circle cx="1533.5" cy="1040.6" r="7.3" fill="#231f20"/>
<circle cx="1533.5" cy="1085" r="7.3" fill="#231f20"/>
<circle cx="1533.5" cy="1130.6" r="7.3" fill="#231f20"/>
<circle cx="1518.1" cy="1139.5" r="7.3" fill="#231f20"/>
<circle cx="1548.9" cy="1139.5" r="7.3" fill="#231f20"/>
<circle cx="1601.1" cy="1109.8" r="7.3" fill="#231f20"/>
<circle cx="1585.8" cy="1139.5" r="7.3" fill="#231f20"/>
<circle cx="1596" cy="1132.1" r="7.3" fill="#231f20"/>
<circle cx="1607" cy="1139.5" r="7.3" fill="#231f20"/>
<circle cx="1616.6" cy="1139.5" r="7.3" fill="#231f20"/>
<circle cx="1654" cy="1139.5" r="7.3" fill="#231f20"/>
<circle cx="1661.4" cy="1139.5" r="7.3" fill="#231f20"/>
<circle cx="1668.8" cy="1139.5" r="7.3" fill="#231f20"/>
<circle cx="1676.2" cy="1139.5" r="7.3" fill="#231f20"/>
<circle cx="1683.6" cy="1139.5" r="7.3" fill="#231f20"/>
<circle cx="1721.4" cy="1139.5" r="7.3" fill="#231f20"/>
<circle cx="1728.8" cy="1139.5" r="7.3" fill="#231f20"/>
<circle cx="1736.2" cy="1139.5" r="7.3" fill="#231f20"/>
<circle cx="1743.6" cy="1139.5" r="7.3" fill="#231f20"/>
<circle cx="1751" cy="1139.5" r="7.3" fill="#231f20"/>
<circle cx="1481.4" cy="806.6" r="7.3" fill="#fff" stroke="#231f20" stroke-width="3.5"/>
<circle cx="1450.7" cy="815.6" r="7.3" fill="#fff" stroke="#231f20" stroke-width="3.5"/>
<circle cx="1466" cy="841.5" r="7.3" fill="#fff" stroke="#231f20" stroke-width="3.5"/>
<circle cx="1450.7" cy="855.4" r="7.3" fill="#fff" stroke="#231f20" stroke-width="3.5"/>
<circle cx="1481.4" cy="852.8" r="7.3" fill="#fff" stroke="#231f20" stroke-width="3.5"/>
<text x="1532.9" y="1011.5" font-size="28.6" font-weight="normal" text-anchor="middle" stroke="#231f20" stroke-width="0.4">****</text>
<text x="1594.7" y="1011.5" font-size="28.6" font-weight="normal" text-anchor="middle" stroke="#231f20" stroke-width="0.4">****</text>
<text x="1663" y="1011.5" font-size="28.6" font-weight="normal" text-anchor="middle" stroke="#231f20" stroke-width="0.4">****</text>
<text x="1731.7" y="1011.5" font-size="28.6" font-weight="normal" text-anchor="middle" stroke="#231f20" stroke-width="0.4">****</text>
<g transform="translate(1474.6 1178.3) rotate(-45)" font-size="27.2" font-weight="bold" text-anchor="end">
<text x="0" y="0" stroke="#231f20" stroke-width="0.55">CRM+sKLH</text>
</g>
<g transform="translate(1542.1 1178.3) rotate(-45)" font-size="27.2" font-weight="bold" text-anchor="end">
<text x="0" y="0" stroke="#231f20" stroke-width="0.55">F-sKLH</text>
</g>
<g transform="translate(1609.6 1178.3) rotate(-45)" font-size="27.2" font-weight="bold" text-anchor="end">
<text x="0" y="0" stroke="#231f20" stroke-width="0.55">IL-4</text>
<text class="al" text-anchor="start" transform="translate(-66.72 0) scale(1.2 1)">α</text>
<text x="-67.13" y="0" stroke="#231f20" stroke-width="0.55">F-sKLH+</text>
</g>
<g transform="translate(1677.1 1178.3) rotate(-45)" font-size="27.2" font-weight="bold" text-anchor="end">
<text x="0" y="0" stroke="#231f20" stroke-width="0.55">F-CRM</text>
</g>
<g transform="translate(1744.6 1178.3) rotate(-45)" font-size="27.2" font-weight="bold" text-anchor="end">
<text x="0" y="0" stroke="#231f20" stroke-width="0.55">IL-4</text>
<text class="al" text-anchor="start" transform="translate(-66.72 0) scale(1.2 1)">α</text>
<text x="-67.13" y="0" stroke="#231f20" stroke-width="0.55">F-CRM+</text>
</g>
</svg>
</body>
</html>
